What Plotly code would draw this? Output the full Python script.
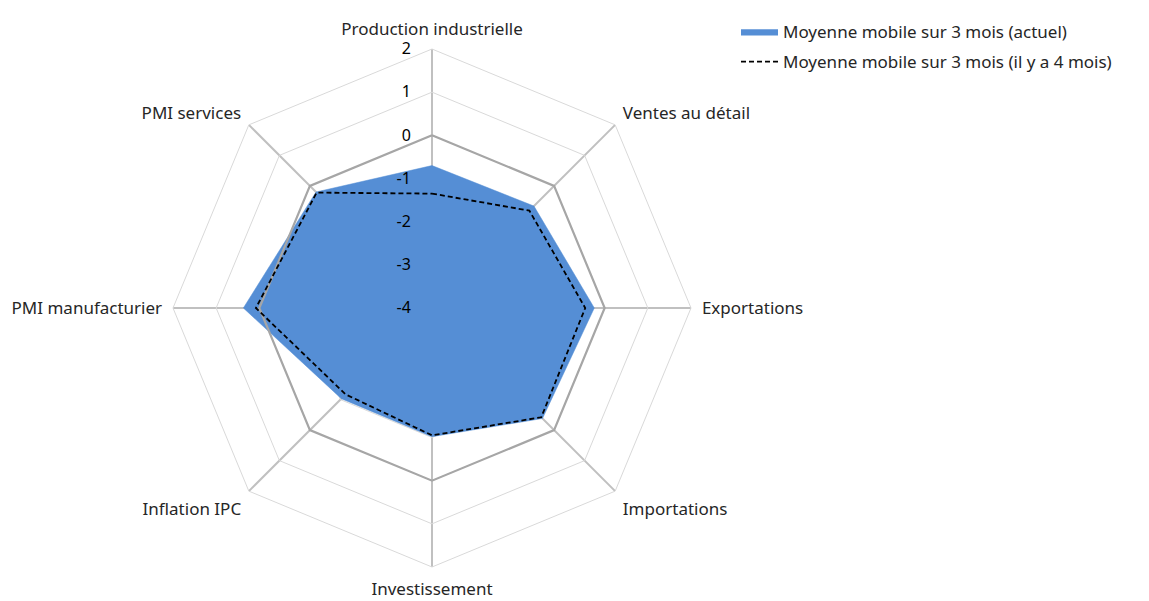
import plotly.graph_objects as go

categories = ["Production industrielle", "Ventes au détail", "Exportations", "Importations",
              "Investissement", "Inflation IPC", "PMI manufacturier", "PMI services"]
current = [-0.7, -0.66, -0.24, -0.38, -1.02, -1.03, 0.37, -0.2]
previous = [-1.35, -0.81, -0.45, -0.42, -1.05, -1.17, 0.08, -0.22]
zero_ring = [0] * len(categories)
radial_ticks = [-4, -3, -2, -1, 0, 1, 2]
radial_tick_labels = ["-4", "-3", "-2", "-1", "0", "1", "2"]
name_current = "Moyenne mobile sur 3 mois (actuel)"
name_previous = "Moyenne mobile sur 3 mois (il y a 4 mois)"

def close(v):
    return list(v) + [v[0]]

cats_c = close(categories)

fig = go.Figure()
fig.add_trace(go.Scatterpolar(
    r=close(current), theta=cats_c, mode="lines", fill="toself",
    fillcolor="#558ed5", line=dict(color="#558ed5", width=0.5),
    name=name_current, legendgroup="a", hoverinfo="skip", subplot="polar"))
fig.add_trace(go.Scatterpolar(
    r=close(zero_ring), theta=cats_c, mode="lines",
    line=dict(color="#a6a6a6", width=2.2), showlegend=False, hoverinfo="skip",
    subplot="polar2"))
fig.add_trace(go.Scatterpolar(
    r=close(previous), theta=cats_c, mode="lines",
    line=dict(color="black", width=1.8, dash="5px,3px"),
    name=name_previous, legendgroup="b", hoverinfo="skip", subplot="polar2"))

W, H = 1149, 601
# plotly draws the linear-grid polar ~8px right/down of the domain centre
cx, R, top = 424, 259, 41
dom = dict(x=[(cx - R) / W, (cx + R) / W], y=[1 - (top + 2 * R) / H, 1 - top / H])
font_family = "Noto Sans"
fig.update_layout(
    width=W, height=H,
    paper_bgcolor="white", plot_bgcolor="white",
    margin=dict(l=0, r=0, t=0, b=0, autoexpand=False),
    font=dict(family=font_family, size=17, color="#262626"),
    polar=dict(
        domain=dom, gridshape="linear", bgcolor="white",
        radialaxis=dict(range=[-4, 2], tickvals=radial_ticks,
                        angle=90, showline=False, showticklabels=False,
                        gridcolor="#d9d9d9", gridwidth=1, ticks="",
                        layer="below traces"),
        angularaxis=dict(rotation=90, direction="clockwise",
                         gridcolor="#c0c0c0", gridwidth=2,
                         showline=True, linecolor="#d9d9d9", linewidth=1,
                         ticks="outside", ticklen=7, tickcolor="rgba(0,0,0,0)",
                         tickfont=dict(size=17, color="#262626"),
                         layer="above traces"),
    ),
    polar2=dict(
        domain=dom, gridshape="linear", bgcolor="rgba(0,0,0,0)",
        radialaxis=dict(range=[-4, 2], tickvals=radial_ticks, ticktext=radial_tick_labels,
                        angle=90, tickangle=90, showline=False, showgrid=False,
                        ticks="outside", ticklen=15, tickcolor="rgba(0,0,0,0)",
                        tickfont=dict(size=16, color="black"),
                        side="counterclockwise", layer="above traces"),
        angularaxis=dict(rotation=90, direction="clockwise", showgrid=False,
                         showline=False, showticklabels=False, ticks=""),
    ),
    legend=dict(x=(740 - 12) / W, y=1 - 6 / H,
                xanchor="left", yanchor="top",
                font=dict(size=17, color="#262626"), tracegroupgap=5,
                itemwidth=37, bgcolor="rgba(0,0,0,0)"),
)
fig.write_html("out.html")
